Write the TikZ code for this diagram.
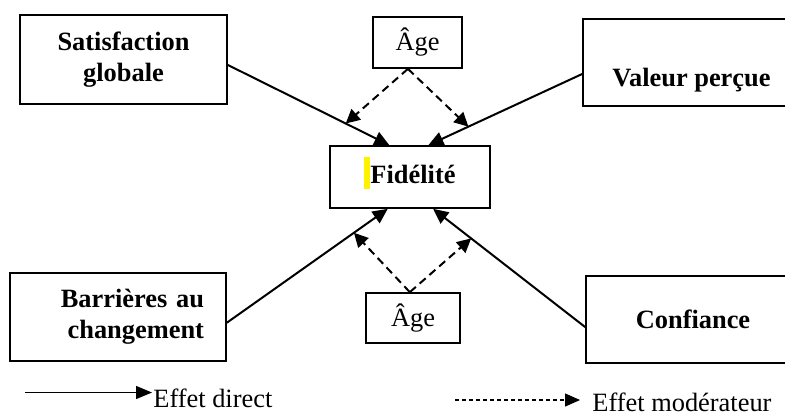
\documentclass[tikz,border=0pt]{standalone}
\usepackage{fontspec}
\setmainfont{Liberation Serif}
\usepackage{tikz}
\usetikzlibrary{arrows.meta}
\newcommand\diagfont{\fontsize{13.2}{15.5}\selectfont}
\tikzset{
  box/.style={draw,line width=0.85pt,inner sep=0pt,align=center,font=\diagfont\bfseries},
  agebox/.style={draw,line width=0.85pt,inner sep=0pt,font=\diagfont},
  legtext/.style={inner sep=0pt,anchor=base west,font=\diagfont},
  direct/.style={line width=1pt,-{Triangle[length=7.5pt,width=7pt]}},
  moder/.style={line width=1pt,dash pattern=on 4pt off 2.5pt,-{Triangle[length=7pt,width=7pt]}},
  legdirect/.style={line width=0.7pt,shorten >=0.5pt,-{Triangle[length=8pt,width=6.5pt]}},
  legmoder/.style={line width=0.6pt,dash pattern=on 2pt off 1.5pt,shorten >=6pt,-{Triangle[length=7.5pt,width=6.5pt]}}
}
\begin{document}
\begin{tikzpicture}[x=0.5pt,y=-0.5pt]
      \useasboundingbox (0,0) rectangle (785,414);
      % boxes
      \node[box,minimum width=103.5pt,minimum height=44.5pt] (sat) at (123.5,59.5) {Satisfaction\\globale};
      \node[agebox,minimum width=44.5pt,minimum height=25.5pt] (age1) at (417.5,42.5) {Âge};
      \node[box,minimum width=108.5pt,minimum height=43.5pt] (val) at (691.5,62.5) {\strut\\Valeur perçue};
      \node[box,minimum width=80pt,minimum height=31pt,text depth=7pt] (fid) at (410,177)
        {{\color{yellow}\rule[-3pt]{3pt}{16pt}}Fidélité};
      \node[box,text width=86pt,inner xsep=11pt,align=right,minimum height=44pt] (bar) at (118,317)
        {Barrières au\\changement};
      \node[agebox,minimum width=47pt,minimum height=25pt] (age2) at (413,318) {Âge};
      \node[box,minimum width=107pt,minimum height=43.5pt] (conf) at (693,319.5) {Confiance};
      % direct effects
      \draw[direct] (sat.-3) -- coordinate[pos=0.73] (m1) (fid.123);
      \draw[direct] (val.186) -- coordinate[pos=0.74] (m2) (fid.60);
      \draw[direct] (bar.-3) -- coordinate[pos=0.79] (m3) (fid.235);
      \draw[direct] (conf.184) -- coordinate[pos=0.75] (m4) (fid.-54);
      % moderating effects
      \draw[moder] (age1.250) -- (m1);
      \draw[moder] (age1.250) -- (m2);
      \draw[moder] (age2.97) -- (m3);
      \draw[moder] (age2.97) -- (m4);
      % legend
      \coordinate (l1) at (25,392.5);
      \node[legtext] (ld) at (153,407) {Effet direct};
      \draw[legdirect] (l1) -- (l1 -| ld.west);
      \coordinate (l2) at (455,400);
      \node[legtext] (lm) at (592,411) {Effet modérateur};
      \draw[legmoder] (l2) -- (l2 -| lm.west);
    \end{tikzpicture}
\end{document}
